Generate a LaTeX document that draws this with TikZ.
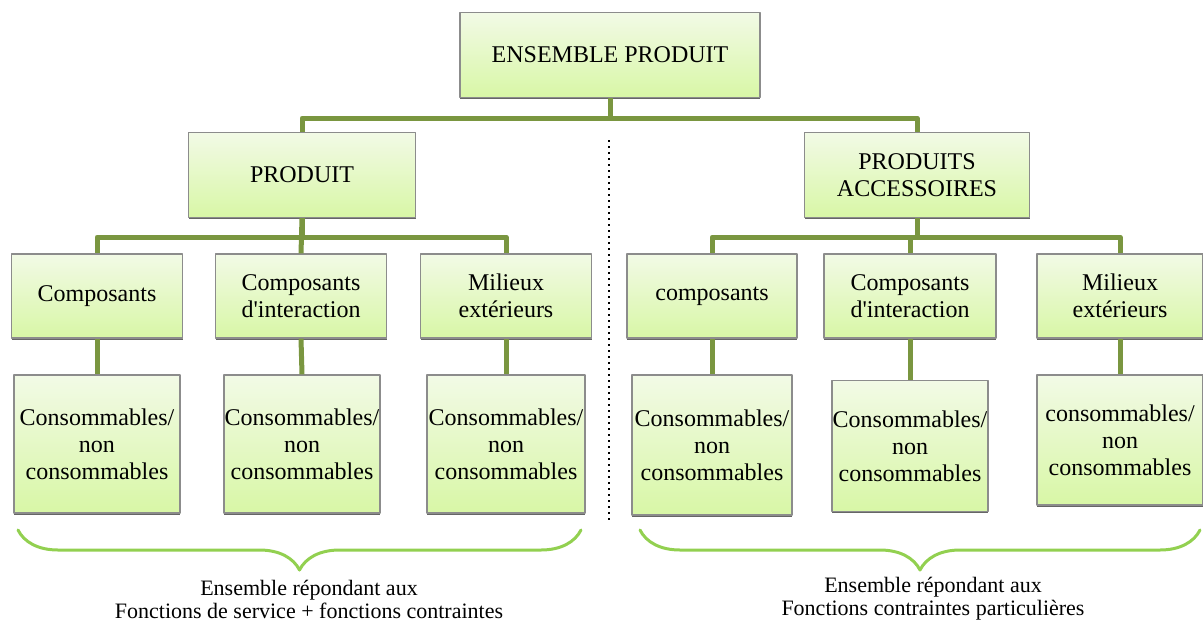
\documentclass[tikz,border=0pt]{standalone}
\usepackage{fontspec}
\setmainfont{Liberation Serif}
\usetikzlibrary{shadows,decorations.pathreplacing}
\definecolor{leaftop}{RGB}{242,250,230}
\definecolor{leafbot}{RGB}{216,247,166}
\definecolor{olivelink}{RGB}{122,150,64}
\definecolor{bracegreen}{RGB}{146,208,80}

\begin{document}
\begin{tikzpicture}[x=0.5pt,y=-0.5pt,line join=round,
  box/.style={rectangle,draw=black!45,line width=0.6pt,top color=leaftop,bottom color=leafbot,align=center,inner sep=0pt,font=\fontsize{12}{13.5}\selectfont,drop shadow={shadow xshift=0pt,shadow yshift=-0.9pt,fill=black!60,opacity=1}},
  link/.style={olivelink,line width=2.5pt,line cap=butt},
  curly/.style={bracegreen,line width=1.5pt,line cap=round,decorate,decoration={brace,amplitude=20pt}},
  note/.style={align=center,font=\fontsize{11}{11.5}\selectfont}]
\useasboundingbox (0,0) rectangle (1203,621);
\node[box,minimum width=150pt,minimum height=42.5pt] (top) at (610,55) {ENSEMBLE PRODUIT};
\node[box,minimum width=113.5pt,minimum height=42.5pt] (prod) at (302,175) {PRODUIT};
\node[box,minimum width=112.5pt,minimum height=42.5pt] (acc) at (917,175) {PRODUITS\\ACCESSOIRES};
\node[box,minimum width=85.5pt,minimum height=42pt] (lcomp) at (97,296) {Composants};
\node[box,minimum width=85.5pt,minimum height=42pt] (linter) at (301,296) {Composants\\d\textquotesingle interaction};
\node[box,minimum width=85.5pt,minimum height=42pt] (lmilieu) at (506,296) {Milieux\\extérieurs};
\node[box,minimum width=85pt,minimum height=42pt] (rcomp) at (712,296) {composants};
\node[box,minimum width=86pt,minimum height=42pt] (rinter) at (910,296) {Composants\\d\textquotesingle interaction};
\node[box,minimum width=83pt,minimum height=42pt] (rmilieu) at (1120,296) {Milieux\\extérieurs};
\node[box,minimum width=83pt,minimum height=69pt] (lcons1) at (97,444) {Consommables/\\non\\consommables};
\node[box,minimum width=78pt,minimum height=69pt] (lcons2) at (302,444) {Consommables/\\non\\consommables};
\node[box,minimum width=79pt,minimum height=69pt] (lcons3) at (506,444) {Consommables/\\non\\consommables};
\node[box,minimum width=80pt,minimum height=70pt] (rcons1) at (712,445) {Consommables/\\non\\consommables};
\node[box,minimum width=78pt,minimum height=65.5pt] (rcons2) at (910,446) {Consommables/\\non\\consommables};
\node[box,minimum width=83pt,minimum height=65pt] (rcons3) at (1120,440) {consommables/\\non\\consommables};
\draw[link] (top.south) -- ++(0,20) -| (prod.north);
\draw[link] (top.south) -- ++(0,20) -| (acc.north);
\draw[link] (prod.south) -- ++(0,19) -| (lcomp.north);
\draw[link] (prod.south) -- ++(0,19) -| (lmilieu.north);
\draw[link] (prod.south) -- (linter.north);
\draw[link] (acc.south) -- ++(0,19) -| (rcomp.north);
\draw[link] (acc.south) -- ++(0,19) -| (rmilieu.north);
\draw[link] (acc.south) -- ++(0,19) -| (rinter.north);
\draw[link] (lcomp.south) -- (lcons1.north);
\draw[link] (linter.south) -- (lcons2.north);
\draw[link] (lmilieu.south) -- (lcons3.north);
\draw[link] (rcomp.south) -- (rcons1.north);
\draw[link] (rinter.south) -- (rcons2.north);
\draw[link] (rmilieu.south) -- (rcons3.north);
\coordinate (sepA) at (609,140);
\coordinate (sepB) at (609,520);
\draw[dotted,line width=1pt] (sepA) -- (sepB);
\coordinate (lbraceR) at (581,530);
\coordinate (lbraceL) at (18,530);
\coordinate (rbraceR) at (1200,530);
\coordinate (rbraceL) at (640,530);
\draw[curly] (lbraceR) -- (lbraceL);
\draw[curly] (rbraceR) -- (rbraceL);
\node[note] (lnote) at (309,599) {Ensemble répondant aux\\Fonctions de service + fonctions contraintes};
\node[note] (rnote) at (933,599) {Ensemble répondant aux\\Fonctions contraintes particulières};
\end{tikzpicture}
\end{document}
